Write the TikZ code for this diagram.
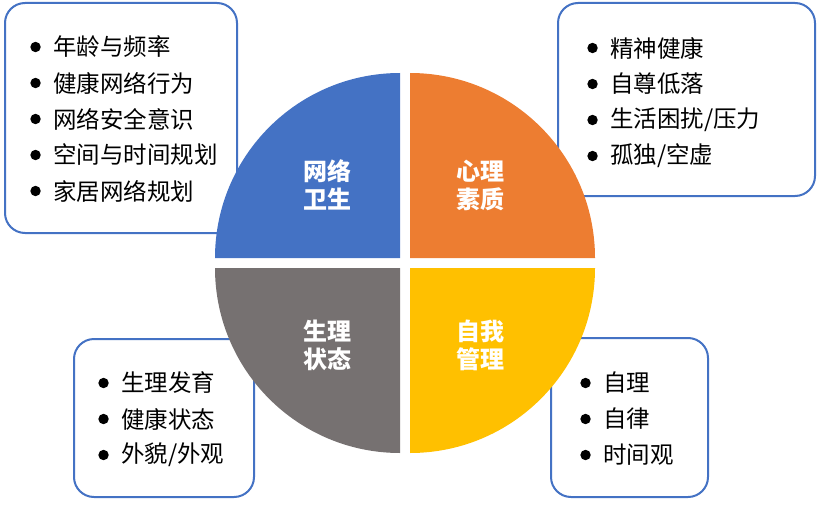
\documentclass[tikz,border=0pt]{standalone}
\usepackage{fontspec}
\usepackage{xcolor}
\usepackage{tikz}
\usetikzlibrary{positioning}
\newfontfamily\cjk{Noto Sans CJK SC}
\definecolor{netblue}{HTML}{4472C4}
\definecolor{mindorange}{HTML}{ED7D31}
\definecolor{bodygray}{HTML}{767171}
\definecolor{selfyellow}{HTML}{FFC000}
\tikzstyle{listbox} = [draw=netblue, line width=1.5pt, fill=white, rounded corners=15pt]
\tikzstyle{dot} = [circle, fill=black, inner sep=0pt, minimum size=7.8pt]
\tikzstyle{item} = [anchor=west, inner sep=0pt, text=black,
 font=\cjk\fontsize{17.6}{21}\selectfont,
 label={[dot, label distance=9pt]left:{}}]
\tikzstyle{quadlabel} = [align=center, text=white, inner sep=0pt,
 font=\cjk\bfseries\fontsize{18}{21}\selectfont]

\begin{document}
\begin{tikzpicture}[x=0.75pt, y=0.75pt]
\useasboundingbox (0,0) rectangle (820,508);
% boxes behind the pie
\draw[listbox] (5,505) rectangle (237,275);
\draw[listbox] (558,505) rectangle (815,312);
\draw[listbox] (74,169) rectangle (254,11);
\draw[listbox] (551,170) rectangle (708,11);
% four quarters
\fill[netblue] (400,250) -- ++(-185,0) arc[start angle=180, end angle=90, radius=185] -- cycle;
\fill[mindorange] (410,250) -- ++(0,185) arc[start angle=90, end angle=0, radius=185] -- cycle;
\fill[bodygray] (400,240) -- ++(-185,0) arc[start angle=180, end angle=270, radius=185] -- cycle;
\fill[selfyellow] (410,240) -- ++(0,-185) arc[start angle=270, end angle=360, radius=185] -- cycle;
\node(net) [quadlabel] at (327,323) {网络\\卫生};
\node(mind) [quadlabel] at (480,323) {心理\\素质};
\node(body) [quadlabel] at (327,163) {生理\\状态};
\node(self) [quadlabel] at (480,163) {自我\\管理};
% lists
\node(net1) [item] at (53,461) {年龄与频率};
\node(net2) [item] at (53,425) {健康网络行为};
\node(net3) [item] at (53,389) {网络安全意识};
\node(net4) [item] at (53,353) {空间与时间规划};
\node(net5) [item] at (53,317) {家居网络规划};
\node(mind1) [item] at (610,460) {精神健康};
\node(mind2) [item] at (610,424) {自尊低落};
\node(mind3) [item] at (610,388) {生活困扰/压力};
\node(mind4) [item] at (610,352) {孤独/空虚};
\node(body1) [item] at (121,125) {生理发育};
\node(body2) [item] at (121,89) {健康状态};
\node(body3) [item] at (121,53) {外貌/外观};
\node(self1) [item] at (603,125) {自理};
\node(self2) [item] at (603,89) {自律};
\node(self3) [item] at (603,53) {时间观};
\end{tikzpicture}
\end{document}
